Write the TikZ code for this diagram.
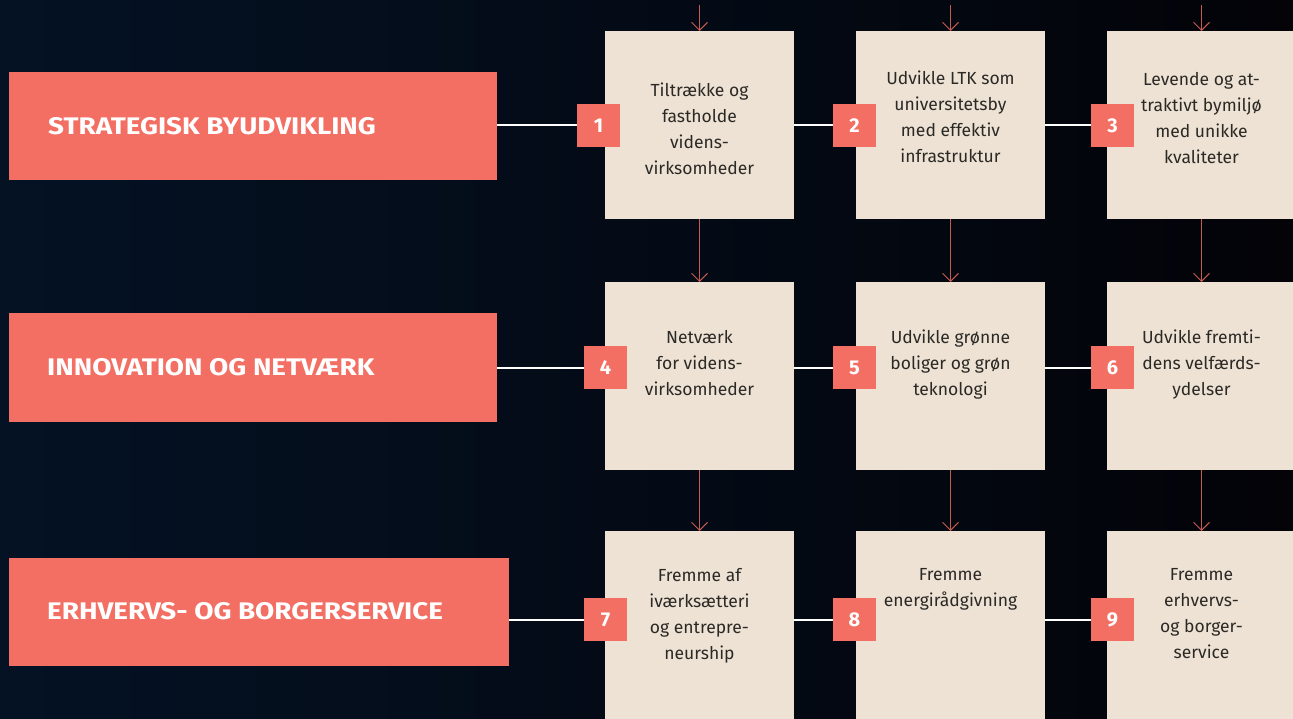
\documentclass[tikz,border=0pt]{standalone}
\usepackage{fontspec}
\setmainfont{Fira Sans}
\newfontfamily\headfont[FakeStretch=1.16]{Fira Sans}
\usetikzlibrary{positioning,arrows.meta}
\definecolor{bgdark}{HTML}{030308}
\definecolor{bgblue}{HTML}{041224}
\definecolor{coral}{HTML}{F36F63}
\definecolor{cream}{HTML}{EDE2D3}
\definecolor{inkgray}{HTML}{2B2926}
\definecolor{arrowred}{HTML}{C95A50}

\begin{document}
\begin{tikzpicture}[x=1pt,y=-1pt,
    bar/.style={fill=coral,minimum height=108pt,anchor=west,inner sep=0pt,outer sep=0pt},
    bartext/.style={text=white,font=\headfont\fontsize{24}{28}\selectfont\bfseries,inner sep=0pt},
    cell/.style={fill=cream,minimum width=189pt,minimum height=188pt,inner sep=0pt,outer sep=0pt},
    celltext/.style={text=inkgray,font=\fontsize{17.5}{26}\selectfont,align=center,inner sep=0pt},
    num/.style={fill=coral,text=white,font=\fontsize{20}{20}\selectfont\bfseries,minimum size=43pt,inner sep=0pt,outer sep=0pt},
    link/.style={draw=white,line width=2pt},
    flow/.style={draw=arrowred,line width=1pt,-{Straight Barb[length=8pt,width=16pt]}}]
    % sfondo
    \useasboundingbox (0,0) rectangle (1293,719);
    \fill [left color=bgblue,right color=bgdark] (0,0) rectangle (1293,719);
    % fasce tematiche
    \node [bar,minimum width=488pt] (bar1) at (9,126) {};
    \node [bar,minimum width=488pt] (bar2) at (9,367.5) {};
    \node [bar,minimum width=500pt] (bar3) at (9,611.5) {};
    \node [bartext,right=39pt of bar1.west] (lab1) {STRATEGISK BYUDVIKLING};
    \node [bartext,right=38pt of bar2.west] (lab2) {INNOVATION OG NETVÆRK};
    \node [bartext,right=38pt of bar3.west] (lab3) {ERHVERVS- OG BORGERSERVICE};
    % riquadri
    \node [cell] (b1) at (699.5,125) {};
    \node [cell] (b2) at (950.5,125) {};
    \node [cell] (b3) at (1201.5,125) {};
    \node [cell] (b4) at (699.5,376) {};
    \node [cell] (b5) at (950.5,376) {};
    \node [cell] (b6) at (1201.5,376) {};
    \node [cell] (b7) at (699.5,625) {};
    \node [cell] (b8) at (950.5,625) {};
    \node [cell] (b9) at (1201.5,625) {};
    % numeri
    \node [num] (n1) at (598.5,125.5) {1};
    \node [num] (n2) at (854.5,125.5) {2};
    \node [num] (n3) at (1112.5,125.5) {3};
    \node [num] (n4) at (605.5,367.5) {4};
    \node [num] (n5) at (854.5,367.5) {5};
    \node [num] (n6) at (1112.5,367.5) {6};
    \node [num] (n7) at (605.5,619.5) {7};
    \node [num] (n8) at (854.5,619.5) {8};
    \node [num] (n9) at (1112.5,619.5) {9};
    % linee orizzontali
    \draw [link] (bar1.east |- n1.west) -- (n1.west);
    \draw [link] (b1.east |- n2.west) -- (n2.west);
    \draw [link] (b2.east |- n3.west) -- (n3.west);
    \draw [link] (bar2.east |- n4.west) -- (n4.west);
    \draw [link] (b4.east |- n5.west) -- (n5.west);
    \draw [link] (b5.east |- n6.west) -- (n6.west);
    \draw [link] (bar3.east |- n7.west) -- (n7.west);
    \draw [link] (b7.east |- n8.west) -- (n8.west);
    \draw [link] (b8.east |- n9.west) -- (n9.west);
    % testi
    \node [celltext,below=52pt of b1.north] (t1) {Tiltrække og\\fastholde\\videns-\\virksomheder};
    \node [celltext,below=40pt of b2.north] (t2) {Udvikle LTK som\\universitetsby\\med effektiv\\infrastruktur};
    \node [celltext,below=41pt of b3.north] (t3) {Levende og at-\\traktivt bymiljø\\med unikke\\kvaliteter};
    \node [celltext,below=48pt of b4.north] (t4) {Netværk\\for videns-\\virksomheder};
    \node [celltext,below=48pt of b5.north] (t5) {Udvikle grønne\\boliger og grøn\\teknologi};
    \node [celltext,below=48pt of b6.north] (t6) {Udvikle fremti-\\dens velfærds-\\ydelser};
    \node [celltext,below=37pt of b7.north] (t7) {Fremme af\\iværksætteri\\og entrepre-\\neurship};
    \node [celltext,below=37pt of b8.north] (t8) {Fremme\\energirådgivning};
    \node [celltext,below=37pt of b9.north] (t9) {Fremme\\erhvervs-\\og borger-\\service};
    % frecce
    \coordinate (top1) at (699.5,5);
    \coordinate (top2) at (950.5,5);
    \coordinate (top3) at (1201.5,5);
    \draw [flow] (top1) -- (b1.north);
    \draw [flow] (top2) -- (b2.north);
    \draw [flow] (top3) -- (b3.north);
    \draw [flow] (b1.south) -- (b4.north);
    \draw [flow] (b2.south) -- (b5.north);
    \draw [flow] (b3.south) -- (b6.north);
    \draw [flow] (b4.south) -- (b7.north);
    \draw [flow] (b5.south) -- (b8.north);
    \draw [flow] (b6.south) -- (b9.north);
\end{tikzpicture}
\end{document}
